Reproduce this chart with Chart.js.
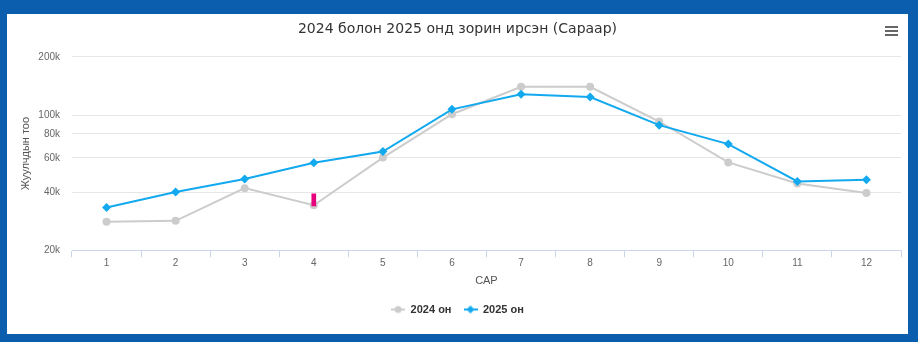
<!DOCTYPE html>
<html>
<head>
<meta charset="utf-8">
<script src="https://cdn.jsdelivr.net/npm/chart.js@4/dist/chart.umd.min.js"></script>
<style>
  html, body { margin: 0; padding: 0; width: 918px; height: 342px; overflow: hidden; background: #0b5dad; }
  #panel { position: absolute; left: 7px; top: 14px; width: 901px; height: 320px; background: #ffffff; }
  #panel canvas { display: block; }
  #menu { position: absolute; right: 10px; top: 12px; width: 13px; }
  #menu span { display: block; height: 2px; margin-bottom: 2px; background: #666666; }
</style>
</head>
<body>
<div id="panel">
  <canvas id="chart" width="901" height="320"></canvas>
  <div id="menu"><span></span><span></span><span></span></div>
</div>
<script>
// Months of the year
const months = ['1', '2', '3', '4', '5', '6', '7', '8', '9', '10', '11', '12'];

// Monthly visitor counts
const visitors2024 = [28100, 28400, 41900, 34200, 60300, 101000, 140000, 140000, 92600, 56900, 44300, 39600];
const visitors2025 = [33300, 40000, 46700, 56700, 64800, 107000, 128000, 124000, 88700, 70800, 45400, 46300];

// Small highlighted range near April
const highlightRange = [null, null, null, [33900, 39200], null, null, null, null, null, null, null, null];

// Labelled ticks on the logarithmic value axis
const yTicks = [20000, 40000, 60000, 80000, 100000, 200000];

const seriesNames = ['2024 он', '2025 он'];
const GRAY = '#cccccc';
const BLUE = '#12a9ef';

// Legend symbol: a short line with the series marker in its middle
function legendSymbol(color, style) {
  const c = document.createElement('canvas');
  c.width = 14; c.height = 10;
  const g = c.getContext('2d');
  g.strokeStyle = color; g.lineWidth = 2;
  g.beginPath(); g.moveTo(0, 5); g.lineTo(14, 5); g.stroke();
  g.fillStyle = color;
  g.beginPath();
  if (style === 'circle') {
    g.arc(7, 5, 3.5, 0, Math.PI * 2);
  } else {
    g.moveTo(7, 1); g.lineTo(11, 5); g.lineTo(7, 9); g.lineTo(3, 5); g.closePath();
  }
  g.fill();
  return c;
}
const symbols = [legendSymbol(GRAY, 'circle'), legendSymbol(BLUE, 'diamond')];

const FONT = "'Liberation Sans', Arial, sans-serif";

new Chart(document.getElementById('chart'), {
  type: 'line',
  data: {
    labels: months,
    datasets: [
      {
        label: seriesNames[0],
        data: visitors2024,
        borderColor: GRAY,
        backgroundColor: GRAY,
        borderWidth: 2,
        pointStyle: 'circle',
        pointRadius: 4,
        pointBorderWidth: 0,
        tension: 0,
        order: 2
      },
      {
        label: seriesNames[1],
        data: visitors2025,
        borderColor: BLUE,
        backgroundColor: BLUE,
        borderWidth: 2,
        pointStyle: 'rectRot',
        pointRadius: 4.5,
        pointBorderWidth: 0,
        tension: 0,
        order: 1
      },
      {
        type: 'bar',
        label: 'highlight',
        data: highlightRange,
        backgroundColor: '#e6007e',
        barThickness: 4,
        order: 0
      }
    ]
  },
  options: {
    responsive: false,
    animation: false,
    layout: { padding: { left: 7, right: 7, top: 0, bottom: 9 } },
    plugins: {
      tooltip: { enabled: false },
      title: {
        display: true,
        text: '2024 болон 2025 онд зорин ирсэн (Сараар)',
        color: '#333333',
        font: { family: "'DejaVu Sans', sans-serif", size: 14, weight: 'normal' },
        padding: { top: 7, bottom: 19 }
      },
      legend: {
        position: 'bottom',
        labels: {
          color: '#333333',
          font: { family: FONT, size: 11, weight: 'bold' },
          usePointStyle: true,
          pointStyleWidth: 14,
          padding: 12,
          generateLabels: (chart) => chart.data.datasets.slice(0, 2).map((ds, i) => ({
            text: ds.label,
            pointStyle: symbols[i],
            fillStyle: ds.borderColor,
            strokeStyle: ds.borderColor,
            lineWidth: 0,
            fontColor: '#333333',
            datasetIndex: i,
            hidden: false
          }))
        }
      }
    },
    scales: {
      x: {
        offset: true,
        grid: {
          offset: true,
          drawOnChartArea: false,
          drawTicks: true,
          tickLength: 7,
          color: '#ccd6eb'
        },
        border: { color: '#ccd6eb', width: 1 },
        ticks: {
          color: '#666666',
          font: { family: FONT, size: 10 },
          padding: 0,
          maxRotation: 0
        },
        title: {
          display: true,
          text: 'САР',
          color: '#555555',
          font: { family: FONT, size: 11 },
          padding: { top: 5, bottom: 4.5 }
        }
      },
      y: {
        type: 'logarithmic',
        min: 20000,
        max: 200000,
        afterBuildTicks: (scale) => { scale.ticks = yTicks.map(v => ({ value: v })); },
        afterFit: (scale) => { scale.width = 58; },
        border: { display: false },
        grid: {
          drawTicks: false,
          color: (ctx) => (ctx.tick && ctx.tick.value === 20000 ? 'rgba(0,0,0,0)' : '#e6e6e6')
        },
        ticks: {
          color: '#666666',
          font: { family: FONT, size: 10 },
          padding: 12,
          callback: (v) => (v / 1000) + 'k'
        },
        title: {
          display: true,
          text: 'Жуулчдын тоо',
          color: '#555555',
          font: { family: FONT, size: 11 },
          padding: { top: 5, bottom: 0 }
        }
      }
    }
  }
});
</script>
</body>
</html>
